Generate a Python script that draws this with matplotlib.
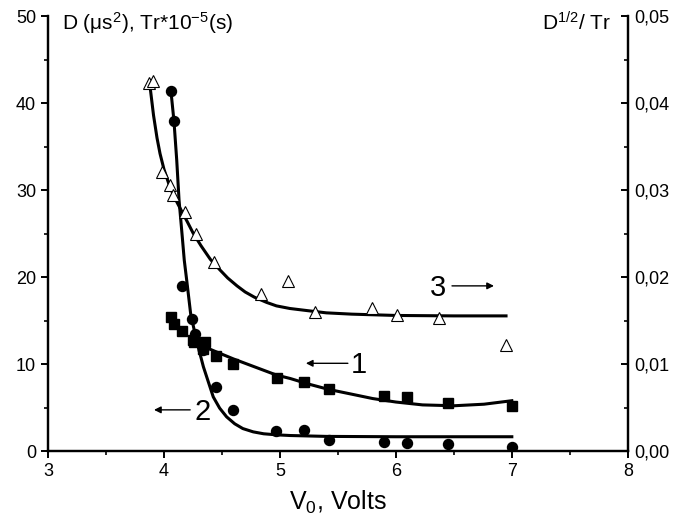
import matplotlib
matplotlib.use("Agg")
import matplotlib.pyplot as plt
from matplotlib.ticker import MultipleLocator, FuncFormatter

plt.rcParams['font.family'] = ['Liberation Sans', 'DejaVu Sans']
plt.rcParams['mathtext.fontset'] = 'custom'
plt.rcParams['mathtext.rm'] = 'Liberation Sans'
plt.rcParams['mathtext.it'] = 'Liberation Sans'

# Series 1: squares (left axis)
sq_x = [4.058, 4.086, 4.158, 4.247, 4.26, 4.353, 4.34, 4.445, 4.597, 4.977, 5.21, 5.42, 5.90, 6.10, 6.45, 7.00]
sq_y = [15.37, 14.6, 13.8, 12.8, 12.56, 12.56, 11.8, 10.95, 10.0, 8.45, 7.93, 7.12, 6.38, 6.19, 5.57, 5.15]
# Series 2: circles (left axis)
ci_x = [4.06, 4.086, 4.158, 4.244, 4.267, 4.339, 4.448, 4.597, 4.97, 5.21, 5.42, 5.90, 6.10, 6.45, 7.00]
ci_y = [41.4, 37.97, 19.0, 15.2, 13.5, 11.6, 7.4, 4.7, 2.33, 2.40, 1.28, 1.04, 0.93, 0.77, 0.46]
# Series 3: triangles (right axis)
tr_x = [3.87, 3.905, 3.98, 4.05, 4.075, 4.18, 4.28, 4.434, 4.84, 5.07, 5.30, 5.795, 6.01, 6.37, 6.95]
tr_y = [0.0423, 0.0425, 0.0321, 0.0306, 0.0294, 0.0275, 0.0250, 0.0218, 0.0181, 0.0196, 0.0160, 0.0164, 0.0157, 0.0153, 0.0122]

# Fitted curves
f1_x = [4.28, 4.33, 4.454, 4.60, 4.74, 4.97, 5.09, 5.24, 5.42, 5.62, 5.80, 6.0, 6.23, 6.5, 6.76, 7.0]
f1_y = [12.4, 12.1, 11.4, 10.6, 9.9, 8.75, 8.35, 7.74, 7.10, 6.55, 6.05, 5.65, 5.32, 5.22, 5.40, 5.80]
f2_x = [4.06, 4.086, 4.11, 4.13, 4.158, 4.175, 4.196, 4.23, 4.28, 4.34, 4.425, 4.48, 4.54, 4.61, 4.68, 4.77, 4.86, 4.97, 5.09, 5.4, 6.0, 7.0]
f2_y = [41.4, 37.97, 33.45, 28.85, 24.6, 21.95, 19.65, 15.8, 12.76, 9.7, 6.24, 4.95, 3.95, 3.15, 2.6, 2.22, 2.0, 1.88, 1.80, 1.70, 1.66, 1.66]
f3_x = [3.88, 3.91, 3.94, 3.966, 4.0, 4.05, 4.097, 4.14, 4.20, 4.25, 4.32, 4.40, 4.478, 4.55, 4.63, 4.70, 4.78, 4.885, 4.97, 5.086, 5.24, 5.4, 5.62, 6.0, 6.5, 6.95]
f3_y = [0.0419, 0.0386, 0.0360, 0.0342, 0.0324, 0.0304, 0.0290, 0.0279, 0.0264, 0.0251, 0.0236, 0.02205, 0.0209, 0.0199, 0.0190, 0.0183, 0.0177, 0.0171, 0.0167, 0.0164, 0.01615, 0.0159, 0.01575, 0.0156, 0.01555, 0.01555]

fig = plt.figure(figsize=(6.91, 5.21), dpi=100)
ax = fig.add_axes([0.0695, 0.134, 0.839, 0.835])
ax2 = ax.twinx()

ax.set_xlim(3, 8)
ax.set_ylim(0, 50)
ax2.set_ylim(0, 0.05)

ax.plot(f1_x, f1_y, color='black', lw=2.2, zorder=3)
ax.plot(f2_x, f2_y, color='black', lw=2.2, zorder=3)
ax2.plot(f3_x, f3_y, color='black', lw=2.2, zorder=3)

ax.plot(sq_x, sq_y, 's', color='black', ms=6.5, ls='none', zorder=4)
ax.plot(ci_x, ci_y, 'o', color='black', ms=7.2, ls='none', zorder=4)
ax2.plot(tr_x, tr_y, '^', mfc='white', mec='black', mew=0.8, ms=9, ls='none', zorder=4)

for a in (ax, ax2):
    a.spines['top'].set_visible(False)
    for s in ['left', 'bottom', 'right']:
        a.spines[s].set_linewidth(1.6)

ax.xaxis.set_major_locator(MultipleLocator(1))
ax.xaxis.set_minor_locator(MultipleLocator(0.5))
ax.yaxis.set_major_locator(MultipleLocator(10))
ax.yaxis.set_minor_locator(MultipleLocator(5))
ax2.yaxis.set_major_locator(MultipleLocator(0.01))
ax2.yaxis.set_minor_locator(MultipleLocator(0.005))
ax2.yaxis.set_major_formatter(FuncFormatter(lambda v, p: f"{v:.2f}".replace('.', ',')))

ax.tick_params(axis='both', which='major', direction='out', length=5, width=1.4, labelsize=13)
ax.tick_params(axis='both', which='minor', direction='out', length=3, width=1.2)
ax2.tick_params(axis='y', which='major', direction='in', length=5, width=1.4, labelsize=13, pad=5)
ax2.tick_params(axis='y', which='minor', direction='in', length=3, width=1.2)

ax.set_xlabel('V$_0$, Volts', fontsize=18, labelpad=6)

ax.text(3.12, 48.4, 'D ($\\mu$s$^2$), Tr*10$^{-5}$(s)', fontsize=15, ha='left', va='baseline')
ax.text(7.86, 48.4, 'D$^{1/2}$/ Tr', fontsize=15, ha='right', va='baseline')

arrow = dict(arrowstyle='-|>', color='black', lw=1.0, mutation_scale=10)
ax.text(6.36, 18.8, '3', fontsize=21, ha='center', va='center')
ax.annotate('', xy=(6.87, 19.0), xytext=(6.46, 19.0), arrowprops=arrow)
ax.text(5.68, 9.9, '1', fontsize=21, ha='center', va='center')
ax.annotate('', xy=(5.20, 10.1), xytext=(5.61, 10.1), arrowprops=arrow)
ax.text(4.33, 4.5, '2', fontsize=21, ha='center', va='center')
ax.annotate('', xy=(3.89, 4.75), xytext=(4.25, 4.75), arrowprops=arrow)

fig.savefig('out.png', dpi=100)
